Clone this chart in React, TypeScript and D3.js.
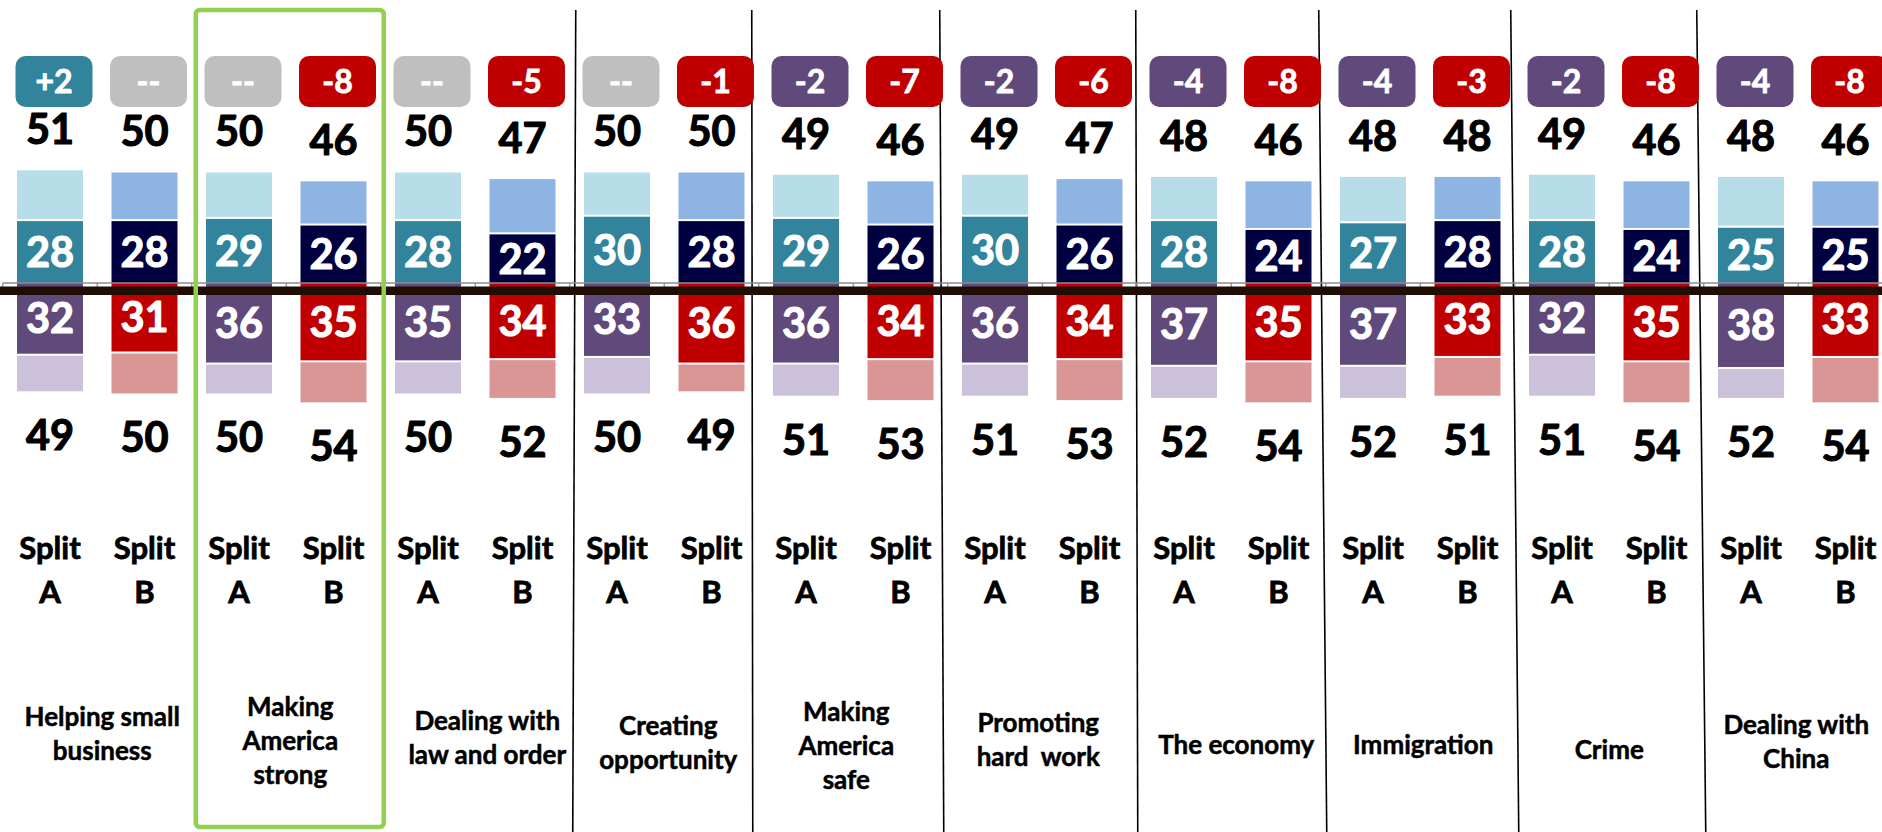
import React from "react";
import * as d3 from "d3";

const categoryLines: string[][] = [
  ["Helping small", "business"],
  ["Making", "America", "strong"],
  ["Dealing with", "law and order"],
  ["Creating", "opportunity"],
  ["Making", "America", "safe"],
  ["Promoting", "hard  work"],
  ["The economy"],
  ["Immigration"],
  ["Crime"],
  ["Dealing with", "China"],
];
const splits = ["A", "B"];

const aTotalTop = [51, 50, 50, 50, 49, 49, 48, 48, 49, 48];
const aDarkTop = [28, 29, 28, 30, 29, 30, 28, 27, 28, 25];
const aDarkBottom = [32, 36, 35, 33, 36, 36, 37, 37, 32, 38];
const aTotalBottom = [49, 50, 50, 50, 51, 51, 52, 52, 51, 52];

const bTotalTop = [50, 46, 47, 50, 46, 47, 46, 48, 46, 46];
const bDarkTop = [28, 26, 22, 28, 26, 26, 24, 28, 24, 25];
const bDarkBottom = [31, 35, 34, 36, 34, 34, 35, 33, 35, 33];
const bTotalBottom = [50, 54, 52, 49, 53, 53, 54, 51, 54, 54];

const badgeA = ["+2", "--", "--", "--", "-2", "-2", "-4", "-4", "-2", "-4"];
const badgeB = ["--", "-8", "-5", "-1", "-7", "-6", "-8", "-3", "-8", "-8"];

const highlighted = 1;

// layout nudges for the hand-placed category text boxes (centre y, x offset)
const catCenterY = [734, 741, 738, 743, 746, 740, 745, 745, 750, 742];
const catDx = [5, 4, 12, 4, -7, -4, 5, 3, 0, -2];
// layout nudges for the hand-drawn separator lines (top / bottom x offsets), groups 3..9
const sepTopDx = [6, -7, -8, -1, -7, -4, -7];
const sepBotDx = [3, -6, -4, 1, 1, 4, 2];

const W = 1882;
const H = 832;
const FONT = "Lato, 'Open Sans', sans-serif";

const colors = {
  A: { topLight: "#B7DEE8", topDark: "#31849B", botDark: "#604A7B", botLight: "#CCC1DA" },
  B: { topLight: "#8EB4E3", topDark: "#000040", botDark: "#C00000", botLight: "#D99694" },
};

function badgeColor(v: string, s: string) {
  if (v.startsWith("+")) return "#31849B";
  if (v === "--") return "#BFBFBF";
  return s === "A" ? "#604A7B" : "#C00000";
}

export default function App() {
  const groupIdx = categoryLines.map((_, i) => i);
  const xGroup = d3.scaleBand<number>().domain(groupIdx).range([2.75, 2.75 + 189 * 10]).padding(0);
  const xSplit = d3.scaleBand<string>().domain(splits).range([0, xGroup.bandwidth()]).paddingInner(0.3016).paddingOuter(0.1508);
  const bw = xSplit.bandwidth();
  const pxPerUnit = 2.21;
  const zeroY = 283;
  const y = d3.scaleLinear().domain([-60, 60]).range([zeroY + 60 * pxPerUnit, zeroY - 60 * pxPerUnit]);

  const bars: any[] = [];
  groupIdx.forEach((g) => {
    splits.forEach((s) => {
      const isA = s === "A";
      bars.push({
        g,
        s,
        cx: (xGroup(g) as number) + (xSplit(s) as number) + bw / 2,
        totalTop: isA ? aTotalTop[g] : bTotalTop[g],
        darkTop: isA ? aDarkTop[g] : bDarkTop[g],
        darkBot: isA ? aDarkBottom[g] : bDarkBottom[g],
        totalBot: isA ? aTotalBottom[g] : bTotalBottom[g],
        badge: isA ? badgeA[g] : badgeB[g],
      });
    });
  });

  const numFs = 41.5;
  const gap = 2;

  const tickXs: number[] = [];
  groupIdx.forEach((g) => {
    const x0 = xGroup(g) as number;
    tickXs.push(x0);
    tickXs.push(x0 + xGroup.bandwidth() / 2);
  });
  tickXs.push(xGroup.range()[1]);

  const sepGroups = groupIdx.filter((g) => g >= 3);

  const hx0 = (xGroup(highlighted) as number) + 4;
  const hx1 = (xGroup(highlighted) as number) + xGroup.bandwidth() + 3;

  return (
    <svg width={W} height={H} style={{ position: "absolute", left: 0, top: 0, background: "#fff" }} fontFamily={FONT}>
      <rect width={W} height={H} fill="#fff" />
      {sepGroups.map((g, k) => {
        const b = xGroup(g) as number;
        return <line key={"sep" + g} x1={b + sepTopDx[k]} y1={10} x2={b + sepBotDx[k]} y2={H} stroke="#000" strokeWidth={1.6} />;
      })}
      {bars.map((d, i) => {
        const c = (colors as any)[d.s];
        const x = d.cx - bw / 2;
        return (
          <g key={"bar" + i}>
            <rect x={x} y={y(d.totalTop)} width={bw} height={y(d.darkTop) - gap - y(d.totalTop)} fill={c.topLight} />
            <rect x={x} y={y(d.darkTop)} width={bw} height={y(0) - y(d.darkTop)} fill={c.topDark} />
            <rect x={x} y={y(0)} width={bw} height={y(-d.darkBot) - y(0)} fill={c.botDark} />
            <rect x={x} y={y(-d.darkBot) + gap} width={bw} height={y(-d.totalBot) - y(-d.darkBot) - gap} fill={c.botLight} />
          </g>
        );
      })}
      <line x1={tickXs[0]} y1={zeroY} x2={W} y2={zeroY} stroke="#8C8C8C" strokeWidth={1.5} />
      {tickXs.map((t, i) => (
        <line key={"tk" + i} x1={t} y1={zeroY} x2={t} y2={zeroY + 7} stroke="#8C8C8C" strokeWidth={1.2} />
      ))}
      <rect x={0} y={y(0) + 3.5} width={W} height={8.5} fill="#200E04" />
      {bars.map((d, i) => {
        const topC = y(d.totalTop) - 41;
        const botC = y(-d.totalBot) + 44;
        const darkTopC = (y(d.darkTop) + y(0)) / 2;
        const darkBotC = (y(0) + y(-d.darkBot)) / 2;
        const base = numFs * 0.36;
        return (
          <g key={"lab" + i} fontWeight={700} fontSize={numFs} textAnchor="middle" strokeWidth={1.1} strokeLinejoin="round">
            <text x={d.cx} y={topC + base} fill="#000" stroke="#000">{d.totalTop}</text>
            <text x={d.cx} y={botC + base} fill="#000" stroke="#000">{d.totalBot}</text>
            <text x={d.cx} y={darkTopC + base} fill="#fff" stroke="#fff">{d.darkTop}</text>
            <text x={d.cx} y={darkBotC + base} fill="#fff" stroke="#fff">{d.darkBot}</text>
          </g>
        );
      })}
      {bars.map((d, i) => {
        const bx = d.cx + 4;
        return (
          <g key={"badge" + i}>
            <rect x={bx - 38.5} y={56} width={77} height={51} rx={10} fill={badgeColor(d.badge, d.s)} />
            <text x={bx} y={81.5 + 32 * 0.36} textAnchor="middle" fontSize={32} fontWeight={700} fill="#fff" stroke="#fff" strokeWidth={0.8}>
              {d.badge}
            </text>
          </g>
        );
      })}
      {bars.map((d, i) => (
        <g key={"split" + i} fontWeight={700} fontSize={31} textAnchor="middle" fill="#000" stroke="#000" strokeWidth={0.8}>
          <text x={d.cx} y={548 + 31 * 0.36}>Split</text>
          <text x={d.cx} y={592 + 31 * 0.36}>{d.s}</text>
        </g>
      ))}
      {categoryLines.map((lines, g) => {
        const cx = (xGroup(g) as number) + xGroup.bandwidth() / 2 + catDx[g];
        const lh = 34;
        const startC = catCenterY[g] - ((lines.length - 1) * lh) / 2;
        return (
          <g key={"cat" + g} fontWeight={700} fontSize={26} textAnchor="middle" fill="#000" stroke="#000" strokeWidth={0.5}>
            {lines.map((ln, k) => (
              <text key={k} x={cx} y={startC + k * lh + 26 * 0.36} style={{ whiteSpace: "pre" }}>
                {ln}
              </text>
            ))}
          </g>
        );
      })}
      <rect x={hx0} y={10} width={hx1 - hx0} height={817} rx={4} fill="none" stroke="#92D050" strokeWidth={4.5} />
    </svg>
  );
}
